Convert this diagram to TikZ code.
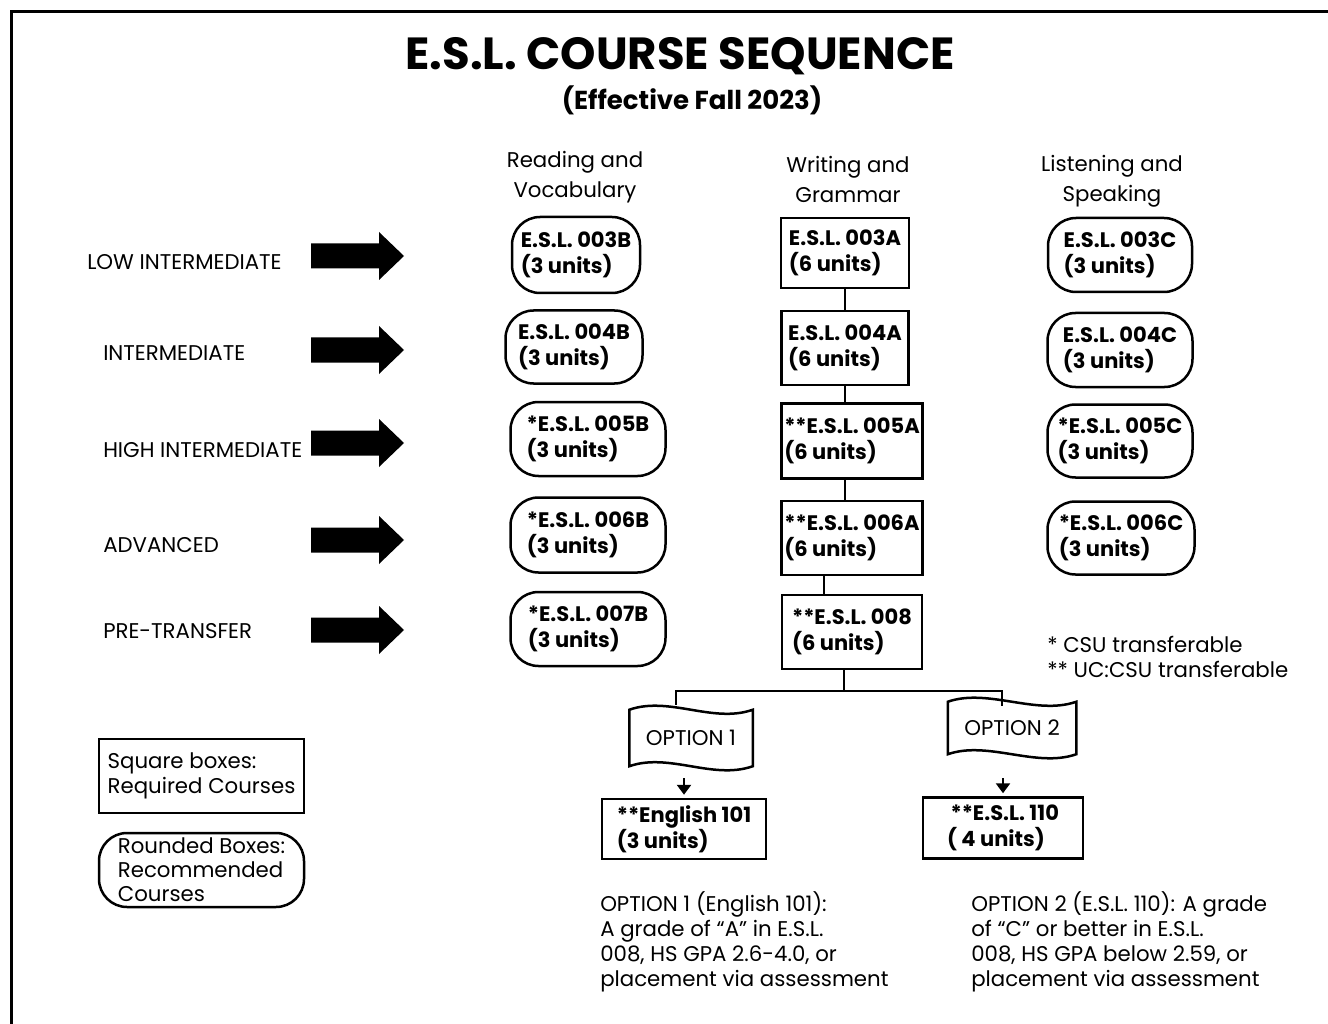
\documentclass[tikz,border=0pt]{standalone}
\usepackage{fontspec}
\setmainfont{Poppins}
\usepackage{tikz}
\usetikzlibrary{positioning,arrows.meta}

\begin{document}
\begin{tikzpicture}[x=1pt,y=-1pt,line width=2.5pt]
  \tikzstyle{plain}=[font=\fontsize{21.3}{25}\selectfont]
  \tikzstyle{head}=[align=center, font=\fontsize{21.3}{30}\selectfont]
  \tikzstyle{level}=[anchor=west, inner sep=0pt, font=\fontsize{21.3}{24}\selectfont]
  \tikzstyle{rbox}=[draw, rounded corners=28pt, align=left, inner sep=0pt,
font=\fontsize{21}{26}\selectfont\bfseries]
  \tikzstyle{sbox}=[draw, align=left, inner sep=0pt,
font=\fontsize{21}{26}\selectfont\bfseries]
  \tikzstyle{tape}=[inner sep=0pt, font=\fontsize{21.3}{24}\selectfont]
  \tikzstyle{down}=[-{Triangle[width=14pt,length=10pt]}]
  \useasboundingbox (0,0) rectangle (1328,1024);
  \draw[line width=3pt] (11,1024) -- (11,12) -- (1328,12);

  \node[font=\fontsize{45}{50}\selectfont\bfseries] (title) at (680,56) {E.S.L. COURSE SEQUENCE};
  \node[font=\fontsize{26}{30}\selectfont\bfseries] (sub) at (692,100) {(Effective Fall 2023)};

  \node[head] (H_B) at (575,177) {Reading and\\Vocabulary};
  \node[head] (H_A) at (848,179) {Writing and\\Grammar};
  \node[head] (H_C) at (1112,181) {Listening and\\Speaking};

  \node[level] (L_3) at (86,262)  {LOW INTERMEDIATE};
  \node[level] (L_4) at (102,353) {INTERMEDIATE};
  \node[level] (L_5) at (102,450) {HIGH INTERMEDIATE};
  \node[level] (L_6) at (102,545) {ADVANCED};
  \node[level] (L_7) at (102,631) {PRE-TRANSFER};

  % big arrows
  \fill[shift={(311,256)}] (0,-12.5) -- (68,-12.5) -- (68,-24) -- (93,0) -- (68,24) -- (68,12.5) -- (0,12.5) -- cycle;
  \fill[shift={(311,350)}] (0,-12.5) -- (68,-12.5) -- (68,-24) -- (93,0) -- (68,24) -- (68,12.5) -- (0,12.5) -- cycle;
  \fill[shift={(311,443)}] (0,-12.5) -- (68,-12.5) -- (68,-24) -- (93,0) -- (68,24) -- (68,12.5) -- (0,12.5) -- cycle;
  \fill[shift={(311,540)}] (0,-12.5) -- (68,-12.5) -- (68,-24) -- (93,0) -- (68,24) -- (68,12.5) -- (0,12.5) -- cycle;
  \fill[shift={(311,630)}] (0,-12.5) -- (68,-12.5) -- (68,-24) -- (93,0) -- (68,24) -- (68,12.5) -- (0,12.5) -- cycle;

  \node[rbox, minimum width=128pt, minimum height=76pt] (B_3) at (576,255) {E.S.L. 003B\\(3 units)};
  \node[rbox, minimum width=137pt, minimum height=73pt] (B_4) at (574,347) {E.S.L. 004B\\(3 units)};
  \node[rbox, minimum width=155pt, minimum height=74pt] (B_5) at (588,439) {*E.S.L. 005B\\(3 units)};
  \node[rbox, minimum width=155pt, minimum height=75pt] (B_6) at (588,535) {*E.S.L. 006B\\(3 units)};
  \node[rbox, minimum width=155pt, minimum height=74pt] (B_7) at (588,629) {*E.S.L. 007B\\(3 units)};

  \node[sbox, minimum width=128pt, minimum height=70pt] (A_3) at (845,253) {E.S.L. 003A\\(6 units)};
  \node[sbox, minimum width=127pt, minimum height=74pt] (A_4) at (845,348) {E.S.L. 004A\\(6 units)};
  \node[sbox, minimum width=141pt, minimum height=75pt] (A_5) at (852,441) {**E.S.L. 005A\\(6 units)};
  \node[sbox, minimum width=141pt, minimum height=74pt] (A_6) at (852,538) {**E.S.L. 006A\\(6 units)};
  \node[sbox, minimum width=140pt, minimum height=74pt] (A_8) at (852,632) {**E.S.L. 008\\(6 units)};

  \node[rbox, minimum width=144pt, minimum height=74pt] (C_3) at (1120,255) {E.S.L. 003C\\(3 units)};
  \node[rbox, minimum width=145pt, minimum height=74pt] (C_4) at (1120,350) {E.S.L. 004C\\(3 units)};
  \node[rbox, minimum width=145pt, minimum height=73pt] (C_5) at (1120,441) {*E.S.L. 005C\\(3 units)};
  \node[rbox, minimum width=147pt, minimum height=73pt] (C_6) at (1121,538) {*E.S.L. 006C\\(3 units)};

  \draw (A_3) -- (A_4);
  \draw (A_4.south) -- (A_4.south |- A_5.north);
  \draw (A_5.south -| A_4) -- (A_6.north -| A_4);
  \draw ([xshift=-28pt]A_6.south) -- ([xshift=-28pt]A_8.north);

  \node[plain, align=left, anchor=west, inner sep=0pt] (note) at (1046,657) {* CSU transferable\\** UC:CSU transferable};

  % options
  \node[tape, minimum width=121pt, minimum height=54pt] (O_1) at (691,738) {OPTION 1};
  \node[tape, minimum width=126pt, minimum height=50pt] (O_2) at (1012,728) {OPTION 2};
  \draw (O_1.north west) .. controls +(40,-14) and +(-40,14) .. (O_1.north east) -- (O_1.south east)
     .. controls +(-40,14) and +(40,-14) .. (O_1.south west) -- cycle;
  \draw (O_2.north west) .. controls +(40,-14) and +(-40,14) .. (O_2.north east) -- (O_2.south east)
     .. controls +(-40,14) and +(40,-14) .. (O_2.south west) -- cycle;

  \coordinate (fork) at (844,691);
  \coordinate (J_1) at (676,691);
  \coordinate (J_2) at (1002,691);
  \draw (A_8.south -| fork) -- (fork);
  \draw ([yshift=5pt]J_1 |- O_1.north) -- (J_1) -- (J_2) -- ([yshift=-4pt]J_2 |- O_2.north);

  \node[sbox, minimum width=164pt, minimum height=60pt] (E_101) at (684,829) {**English 101\\(3 units)};
  \node[sbox, minimum width=160pt, minimum height=61pt] (E_110) at (1003,828) {\,**E.S.L. 110\\( 4 units)};
  \draw[down, shorten <=12pt, shorten >=3pt] (E_101.north |- O_1.south) -- (E_101.north);
  \draw[down, shorten <=24pt, shorten >=3pt] (E_110.north |- O_2.south) -- (E_110.north);

  \node[plain, align=left, anchor=north west, inner sep=0pt] (T_1) at (599,890) {OPTION 1 (English 101):\\A grade of “A” in E.S.L.\\008, HS GPA 2.6-4.0, or\\placement via assessment};
  \node[plain, align=left, anchor=north west, inner sep=0pt] (T_2) at (970,890) {OPTION 2 (E.S.L. 110): A grade\\of “C” or better in E.S.L.\\008, HS GPA below 2.59, or\\placement via assessment};

  % legend
  \node[draw, plain, align=left, inner sep=0pt, minimum width=205pt, minimum height=74pt] (K_1) at (201.5,776) {Square boxes:\\Required Courses};
  \node[draw, plain, rounded corners=28pt, align=left, inner sep=0pt, minimum width=205pt, minimum height=74pt, font=\fontsize{21.3}{24}\selectfont] (K_2) at (201.5,870) {Rounded Boxes:\\Recommended\\Courses};
\end{tikzpicture}
\end{document}
